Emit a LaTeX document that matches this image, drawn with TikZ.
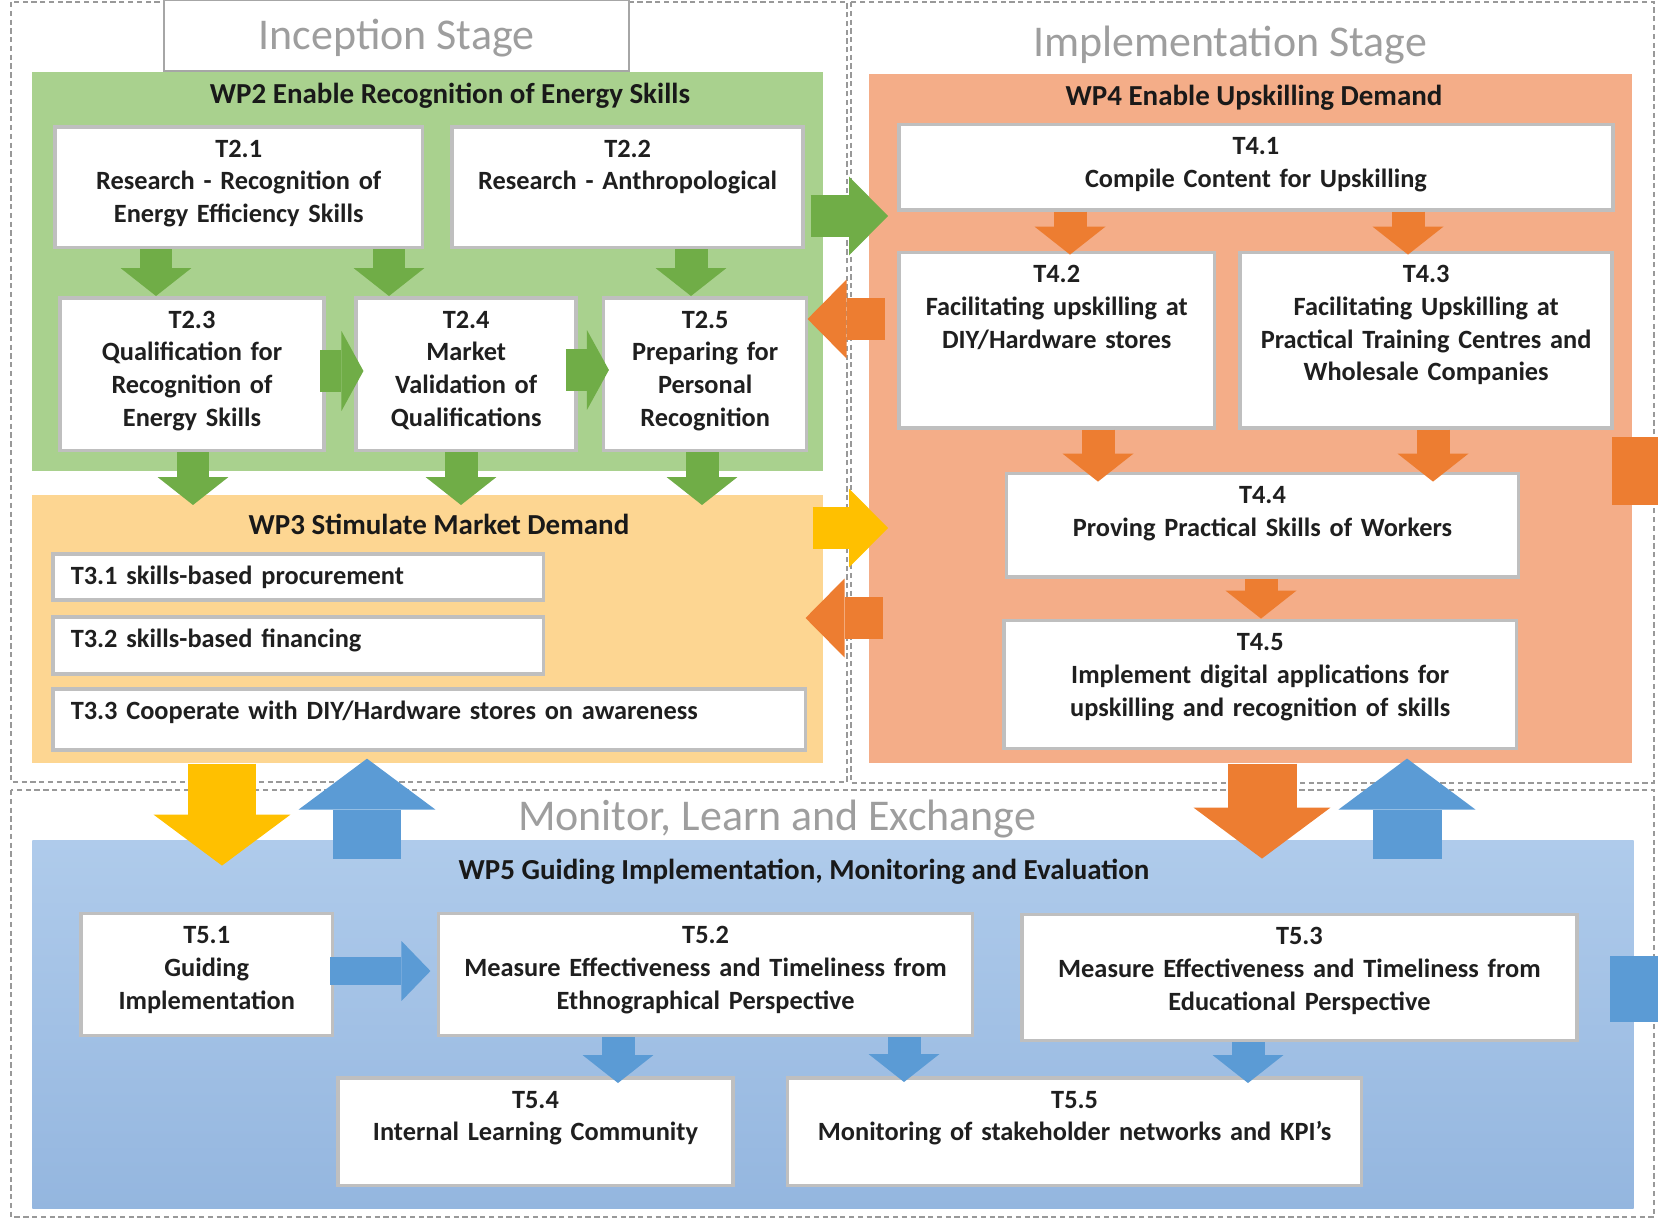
\documentclass[tikz,border=0pt]{standalone}
\usepackage{fontspec}
\setmainfont{Carlito}
\usetikzlibrary{positioning,arrows.meta}

\definecolor{wpGreen}{HTML}{A9D18E}
\definecolor{wpGold}{HTML}{FDD692}
\definecolor{wpSalmon}{HTML}{F4AD88}
\definecolor{wpBlueTop}{HTML}{AFCBEB}
\definecolor{wpBlueBottom}{HTML}{94B6DF}
\definecolor{arrowGreen}{HTML}{70AD47}
\definecolor{arrowOrange}{HTML}{ED7D31}
\definecolor{arrowYellow}{HTML}{FFC000}
\definecolor{arrowBlue}{HTML}{5B9BD5}

\begin{document}
\begin{tikzpicture}[x=0.02cm, y=-0.02cm]

    %
    % Styles for stages, packages, tasks and flows
    %
    \tikzstyle{stageFrame} = [draw=black!40, densely dashed, line width=0.6pt]
    \tikzstyle{stageTitle} = [font={\fontsize{25}{30}\selectfont}, text=black!38, inner sep=0pt,
                              text height=16pt, text depth=0pt]
    \tikzstyle{stageTab} = [stageTitle, draw=black!35, fill=white, line width=0.8pt,
                            minimum width=9.3cm, minimum height=1.42cm]
    \tikzstyle{package} = [anchor=north west, inner sep=0pt, draw=none]
    \tikzstyle{packageTitle} = [font={\fontsize{16.5}{20}\selectfont\bfseries}, text=black!90,
                                inner sep=0pt, text height=10.6pt, text depth=0pt]
    \tikzstyle{task} = [draw=black!25, line width=2pt, fill=white, anchor=north west, align=center,
                        inner xsep=0pt, inner ysep=0.2cm, text height=0.41cm,
                        font={\fontsize{15}{18.6}\selectfont\bfseries}, text=black!88]
    \tikzstyle{taskLeft} = [task, align=left, inner xsep=0.36cm]
    \tikzstyle{smallFlow} = [line width=0.66cm, -{Triangle[length=0.56cm, width=1.42cm, line width=0pt]}]
    \tikzstyle{thinFlow} = [line width=0.56cm, -{Triangle[length=0.58cm, width=1.2cm, line width=0pt]}]
    \tikzstyle{stepFlow} = [line width=0.86cm, -{Triangle[length=0.44cm, width=1.6cm, line width=0pt]}]
    \tikzstyle{sideFlow} = [line width=0.86cm, -{Triangle[length=0.78cm, width=1.58cm, line width=0pt]}]
    \tikzstyle{bigFlow} = [line width=1.38cm, -{Triangle[length=1.02cm, width=2.74cm, line width=0pt]}]

    \useasboundingbox (0,0) rectangle (1658,1220);

    %
    % Stages
    %
    \draw[stageFrame] (11,2) rectangle (847,782);
    \draw[stageFrame] (851,2) rectangle (1654,783);
    \draw[stageFrame] (11,790) rectangle (1654,1217);

    \node[stageTab] (inception) at (396.5,35.5) {Inception Stage};
    \node[stageTitle] (implementation) at (1230,42) {Implementation Stage};
    \node[stageTitle] (monitor) at (777,816) {Monitor, Learn and Exchange};

    %
    % Work packages
    %
    \node[package, fill=wpGreen, minimum width=15.82cm, minimum height=7.97cm] (wp2) at (32,72) {};
    \node[package, fill=wpGold, minimum width=15.82cm, minimum height=5.36cm] (wp3) at (32,495) {};
    \node[package, fill=wpSalmon, minimum width=15.25cm, minimum height=13.78cm] (wp4) at (869,74) {};
    \node[package, top color=wpBlueTop, bottom color=wpBlueBottom,
          minimum width=32.03cm, minimum height=7.36cm] (wp5) at (32,840.6) {};

    \node[packageTitle] (wp2title) at (450,94) {WP2 Enable Recognition of Energy Skills};
    \node[packageTitle] (wp3title) at (439,525.5) {WP3 Stimulate Market Demand};
    \node[packageTitle] (wp4title) at (1254,96) {WP4 Enable Upskilling Demand};
    \node[packageTitle] (wp5title) at (804,870) {WP5 Guiding Implementation, Monitoring and Evaluation};

    %
    % Tasks
    %
    \node[task, text width=7.36cm, text depth=1.61cm] (t21) at (53,125) {T2.1\\Research - Recognition of\\Energy Efficiency Skills};
    \node[task, text width=7.02cm, text depth=1.61cm, right=0.52cm of t21] (t22) {T2.2\\Research - Anthropological};
    \node[task, text width=5.29cm, text depth=2.25cm] (t23) at (58,296) {T2.3\\Qualification for\\Recognition of\\Energy Skills};
    \node[task, text width=4.40cm, text depth=2.25cm, right=0.57cm of t23] (t24) {T2.4\\Market\\Validation of\\Qualifications};
    \node[task, text width=4.06cm, text depth=2.25cm, right=0.48cm of t24] (t25) {T2.5\\Preparing for\\Personal\\Recognition};

    \node[taskLeft, text width=9.10cm, text depth=0.12cm] (t31) at (51,552) {T3.1 skills-based procurement};
    \node[taskLeft, text width=9.10cm, text depth=0.34cm] (t32) at (51,615) {T3.2 skills-based financing};
    \node[taskLeft, text width=14.34cm, text depth=0.42cm] (t33) at (51,687) {T3.3 Cooperate with DIY/Hardware stores on awareness};

    \node[task, text width=14.29cm, text depth=0.90cm] (t41) at (897,122.7) {T4.1\\Compile Content for Upskilling};
    \node[task, text width=6.32cm, text depth=2.70cm] (t42) at (897,250.6) {T4.2\\Facilitating upskilling at\\DIY/Hardware stores};
    \node[task, text width=7.44cm, text depth=2.70cm, right=0.44cm of t42] (t43) {T4.3\\Facilitating Upskilling at\\Practical Training Centres and\\Wholesale Companies};
    \node[task, text width=10.25cm, text depth=1.26cm] (t44) at (1004.5,471.6) {T4.4\\Proving Practical Skills of Workers};
    \node[task, text width=10.26cm, text depth=1.75cm] (t45) at (1002,618.6) {T4.5\\Implement digital applications for\\upskilling and recognition of skills};

    \node[task, text width=5.04cm, text depth=1.64cm] (t51) at (79,911.5) {T5.1\\Guiding\\Implementation};
    \node[task, text width=10.68cm, text depth=1.64cm, right=2.05cm of t51] (t52) {T5.2\\Measure Effectiveness and Timeliness from\\Ethnographical Perspective};
    \node[task, text width=11.11cm, text depth=1.72cm] (t53) at (1020,912.5) {T5.3\\Measure Effectiveness and Timeliness from\\Educational Perspective};
    \node[task, text width=7.91cm, text depth=1.35cm] (t54) at (336,1076) {T5.4\\Internal Learning Community};
    \node[task, text width=11.48cm, text depth=1.35cm, right=1.02cm of t54] (t55) {T5.5\\Monitoring of stakeholder networks and KPI’s};

    %
    % Connect tasks and packages via flows
    %
    \draw[smallFlow, arrowGreen] (t21.south -| 156,0) -- (t23.north -| 156,0);
    \draw[smallFlow, arrowGreen] (t21.south -| 389,0) -- (t24.north -| 389,0);
    \draw[smallFlow, arrowGreen] (t22.south -| 691,0) -- (t25.north -| 691,0);
    \draw[stepFlow, arrowGreen, shorten <=-0.11cm, shorten >=-0.18cm] (t23.east |- 0,371) -- (t24.west |- 0,371);
    \draw[stepFlow, arrowGreen, shorten <=-0.24cm, shorten >=-0.14cm] (t24.east |- 0,370) -- (t25.west |- 0,370);

    \draw[smallFlow, arrowGreen, shorten >=-0.2cm] (t23.south -| 193,0) -- (wp3.north -| 193,0);
    \draw[smallFlow, arrowGreen, shorten >=-0.2cm] (t24.south -| 461,0) -- (wp3.north -| 461,0);
    \draw[smallFlow, arrowGreen, shorten >=-0.2cm] (t25.south -| 702,0) -- (wp3.north -| 702,0);

    \draw[sideFlow, arrowGreen, shorten <=-0.26cm, shorten >=-0.38cm] (wp2.east |- 0,216) -- (wp4.west |- 0,216);
    \draw[sideFlow, arrowOrange, shorten <=-0.32cm, shorten >=-0.32cm] (wp4.west |- 0,319) -- (wp2.east |- 0,319);
    \draw[sideFlow, arrowYellow, shorten <=-0.22cm, shorten >=-0.38cm] (wp3.east |- 0,528) -- (wp4.west |- 0,528);
    \draw[sideFlow, arrowOrange, shorten <=-0.28cm, shorten >=-0.36cm] (wp4.west |- 0,618) -- (wp3.east |- 0,618);

    \draw[smallFlow, arrowOrange, shorten >=-0.08cm] (t41.south -| 1070,0) -- (t42.north -| 1070,0);
    \draw[smallFlow, arrowOrange, shorten >=-0.08cm] (t41.south -| 1408,0) -- (t43.north -| 1408,0);
    \draw[smallFlow, arrowOrange, shorten >=-0.2cm] (t42.south -| 1098,0) -- (t44.north -| 1098,0);
    \draw[smallFlow, arrowOrange, shorten >=-0.2cm] (t43.south -| 1433,0) -- (t44.north -| 1433,0);
    \draw[smallFlow, arrowOrange] (t44.south -| 1261,0) -- (t45.north -| 1261,0);

    \draw[bigFlow, arrowYellow, shorten >=-0.5cm] (wp3.south -| 222,0) -- (wp5.north -| 222,0);
    \draw[bigFlow, arrowBlue, shorten <=-0.36cm, shorten >=-0.1cm] (wp5.north -| 367,0) -- (wp3.south -| 367,0);
    \draw[bigFlow, arrowOrange, shorten >=-0.36cm] (wp4.south -| 1262,0) -- (wp5.north -| 1262,0);
    \draw[bigFlow, arrowBlue, shorten <=-0.36cm, shorten >=-0.1cm] (wp5.north -| 1407,0) -- (wp4.south -| 1407,0);

    \draw[thinFlow, arrowBlue, shorten <=-0.08cm, shorten >=0.13cm] (t51.east |- 0,971) -- (t52.west |- 0,971);
    \draw[smallFlow, arrowBlue, shorten >=-0.14cm] (t52.south -| 618,0) -- (t54.north -| 618,0);
    \draw[smallFlow, arrowBlue, shorten >=-0.12cm] (t52.south -| 904,0) -- (t55.north -| 904,0);
    \draw[smallFlow, arrowBlue, shorten >=-0.14cm] (t53.south -| 1248,0) -- (t55.north -| 1248,0);

    % cut-off shapes at the right border
    \fill[arrowOrange] (1612,437) rectangle (1658,505);
    \fill[arrowBlue] (1610,956) rectangle (1658,1022);

\end{tikzpicture}
\end{document}
